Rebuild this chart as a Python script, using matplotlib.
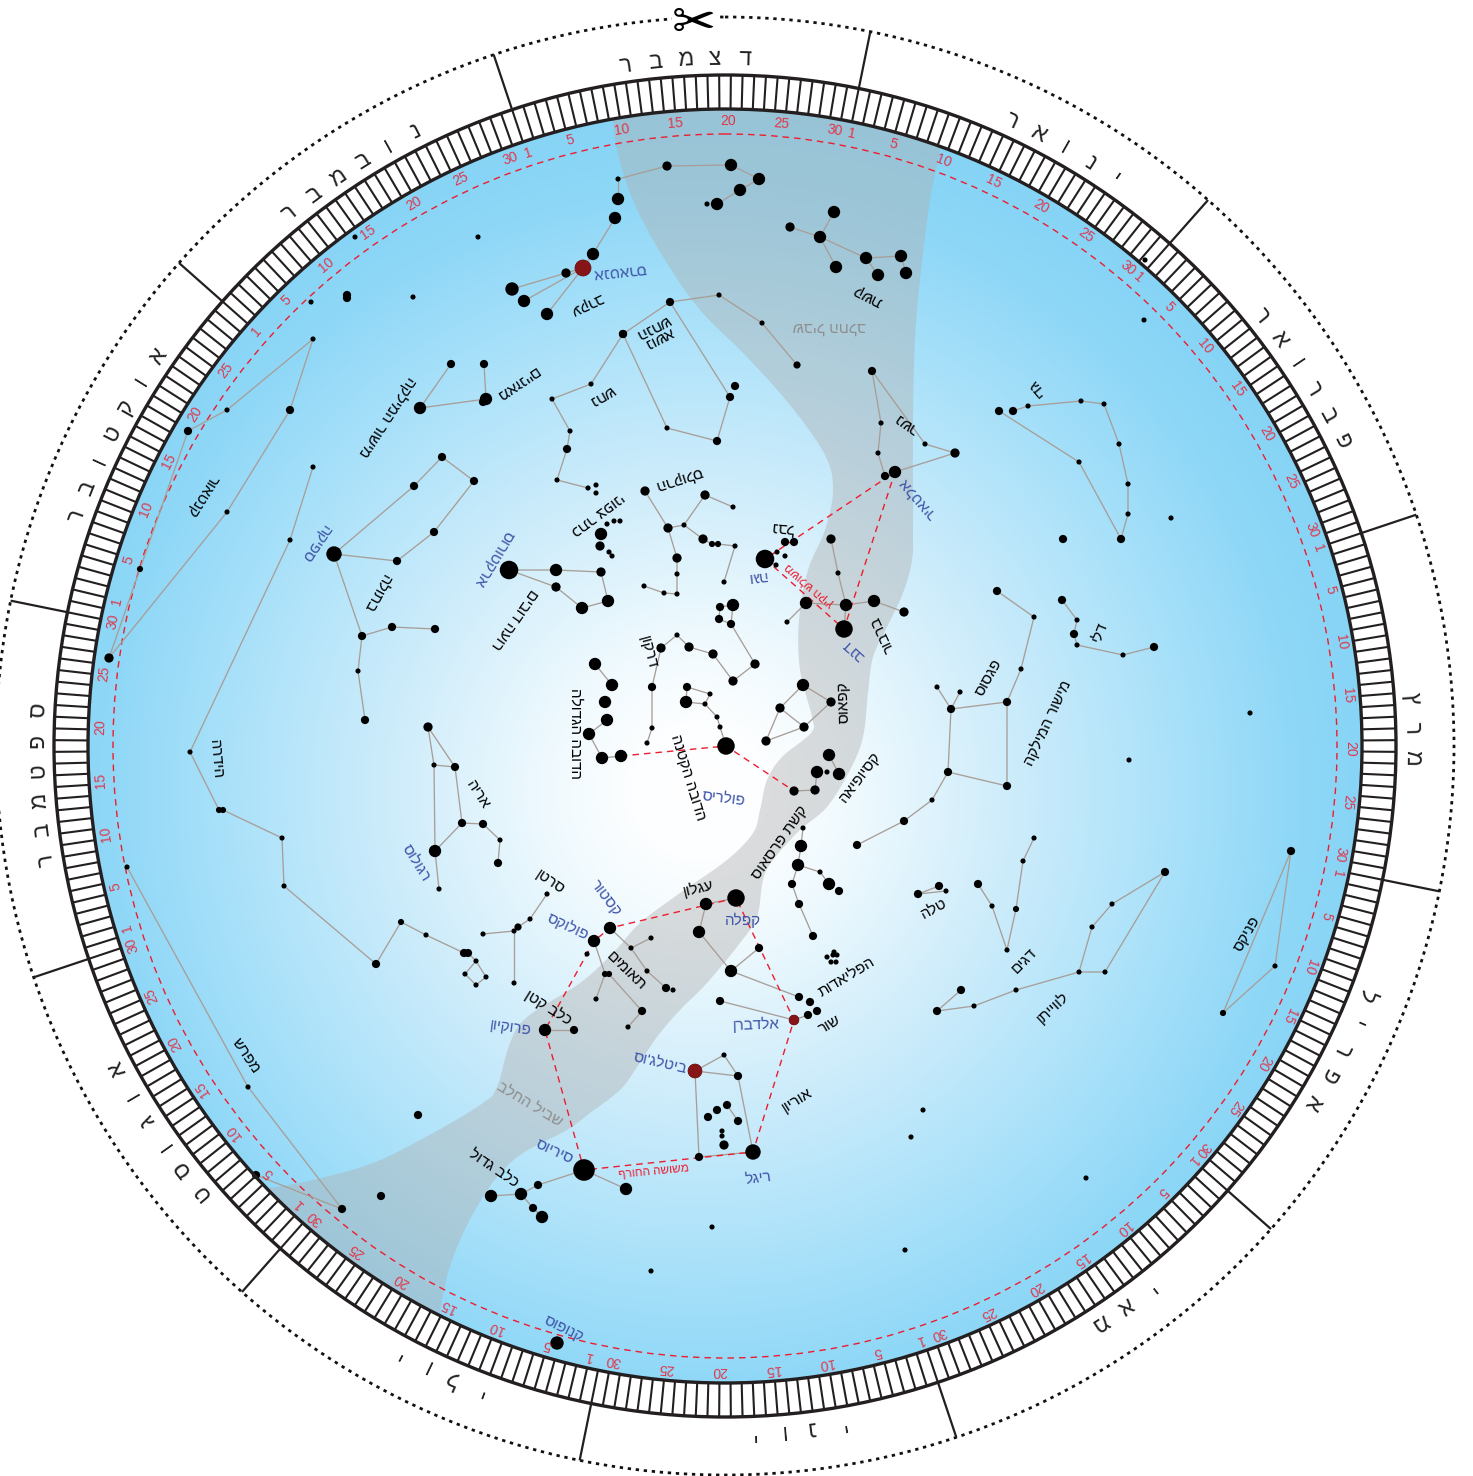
import numpy as np
import matplotlib
matplotlib.use('Agg')
import matplotlib.pyplot as plt
from matplotlib.patches import Circle, Polygon
from matplotlib.collections import LineCollection

plt.rcParams['font.family'] = ['Liberation Sans', 'DejaVu Sans']

W, H = 1473, 1476
CX, CY = 725, 746
R_DOT, R_OUT, R_IN, R_ECL = 729, 671, 637, 612

MONTHS = ['דצמבר', 'ינואר', 'פברואר', 'מרץ', 'אפריל', 'מאי', 'יוני', 'יולי', 'אוגוסט', 'ספטמבר', 'אוקטובר', 'נובמבר']
MONTH_LABEL_ANGLE = [356.7, 29.6, 57.5, 88.5, 116.2, 144.4, 174.0, 204.5, 235.8, 266.7, 297.0, 327.0]
MONTH_DAY1_ANGLE = [341.7, 11.7, 41.4, 71.6, 101.8, 131.6, 161.9, 192.6, 223.0, 253.1, 283.4, 311.5]
MONTH_BOUNDARY = [341.5, 11.5, 41.5, 71.5, 101.5, 131.5, 161.5, 191.5, 221.5, 251.5, 281.5, 311.5]
DAY_LABELS = [5, 10, 15, 20, 25, 30]

GRAD_DIST = [0, 70, 150, 300, 450, 600, 720]
GRAD_R = [255, 252, 240, 208, 175, 142, 130]
GRAD_G = [255, 254, 250, 237, 227, 215, 210]
GRAD_B = [255, 255, 254, 251, 250, 247, 245]

MILKY_A = [(610,90),(617,150),(635,205),(665,260),(700,310),(745,355),(790,405),(825,455),(833,490),(825,530),
           (808,570),(799,620),(800,670),(812,717),(811,733),(782,757),(767,780),(760,810),(753,833),(727,860),
           (680,893),(640,923),(613,953),(580,983),(527,1017),(510,1043),(497,1087),(483,1103),(433,1133),
           (373,1163),(313,1180),(270,1188),(220,1195)]
MILKY_B = [(435,1340),(442,1300),(448,1273),(460,1240),(477,1207),(497,1177),(523,1153),(567,1130),(590,1113),
           (620,1090),(637,1067),(657,1037),(680,1010),(707,983),(740,943),(757,917),(763,880),(773,860),(800,830),
           (827,807),(850,770),(863,737),(868,693),(873,657),(887,627),(903,593),(912,560),(913,527),(913,420),
           (915,340),(920,280),(930,200),(940,150),(947,90)]

SCO = [(618,179,5),(618,199,12),(615,218,12),(593,254,12),(583,268,16),(566,273,9),(512,289,13),(524,301,12),(547,314,12),
       (667,166,9),(731,165,12),(759,179,12),(740,190,12),(717,204,12),(707,204,5)]
SCO_L = [[8,4],[6,5,4],[7,4],[4,3,2],[0,1],[0,9,10,11,12,13]]
SGR = [(790,227,9),(820,237,12),(834,212,12),(836,267,12),(866,258,12),(901,256,12),(878,275,12),(906,273,12)]
SGR_L = [[0,1,2],[1,3],[1,4,5,7],[4,6]]
OPH = [(670,302,8),(719,295,5),(762,323,5),(797,365,7),(623,334,8),(730,397,8),(735,386,8),(717,441,8),(667,428,5)]
OPH_L = [[3,2,1,0,4],[0,5,7,8,4]]
SER = [(591,384,5),(552,399,5),(570,431,5),(567,449,8),(557,480,5),(588,488,5),(596,485,5),(596,493,5),(623,334,8)]
SER_L = [[8,0,1,2,3,4,5]]
CRB = [(601,534,12),(600,546,9),(609,552,5),(612,556,5),(607,524,5),(614,521,5),(620,521,5)]
LIB = [(451,364,8),(484,364,8),(486,399,12),(483,402,8),(420,408,12)]
LIB_L = [[0,4,2,1]]
CEN = [(313,339,5),(227,410,5),(188,431,8),(140,569,6),(109,658,9),(290,410,8),(227,512,5)]
CEN_L = [[0,1,2,3,4],[0,5,6,4]]
LONE = [(355,237,5),(478,237,5),(347,295,8),(347,298,8),(413,297,5),(311,302,5),(418,1115,8),(381,1196,8),(712,1227,5),
        (905,1250,5),(923,1110,5),(911,1137,5),(651,1271,5),(1086,1178,5),(557,1343,13),(1250,713,5),(1129,760,5),
        (1145,260,5),(1144,320,5),(1063,539,8),(1171,518,5)]
VIR = [(334,554,15),(397,561,8),(434,532,8),(474,481,8),(442,457,8),(414,486,8),(362,636,8),(392,627,8),(435,629,8),(358,671,5),(365,720,8)]
VIR_L = [[0,1,2,3,4,5,0],[0,6,7,8],[6,9,10]]
HYA = [(313,467,5),(290,540,5),(190,752,5),(219,810,6),(223,810,6),(282,838,5),(284,886,5),(376,964,8),(401,922,6),(426,935,5),
       (464,953,8),(468,953,8),(476,961,5),(465,974,5),(476,985,5),(486,977,5)]
HYA_L = [[0,1,2,3,4,5,6,7,8,9,10,11,12,13,14,15,12]]
LEO = [(428,727,9),(434,765,5),(455,767,8),(462,823,8),(483,824,8),(500,840,5),(498,863,8),(435,851,12),(439,889,5)]
LEO_L = [[0,2,1,0],[1,7,8],[2,3,4,5,6],[3,7]]
CNC = [(483,934,5),(514,931,5),(518,927,7),(530,919,5),(547,894,5),(514,983,5)]
CNC_L = [[0,1,2,3,4],[1,5]]
GEM = [(610,928,12),(594,941,12),(587,954,5),(631,948,5),(651,938,5),(647,971,5),(666,988,8),(673,990,5),(605,974,6),(609,974,6),
       (596,999,5),(642,1011,8),(628,1027,5)]
GEM_L = [[0,3,5,6],[3,4],[1,8],[8,10],[9,11,12]]
AUR = [(736,898,17),(706,904,12),(699,932,12),(731,971,12),(759,948,8),(799,997,8)]
AUR_L = [[0,1,2,3,4],[3,5]]
TAU = [(794,1020,10),(720,1001,8),(810,1002,8),(817,1011,8),(808,1015,8)]
TAU_L = [[1,0,4]]
PLE = [(827,957,5),(834,952,5),(837,955,5),(831,962,5),(836,962,5),(833,955,5)]
PER = [(798,865,12),(801,846,12),(803,828,5),(820,872,5),(829,884,12),(839,891,8),(792,884,8),(799,904,8),(813,936,8)]
PER_L = [[2,1,0,3,4],[0,6,7,8]]
ORI = [(695,1071,14),(724,1055,5),(738,1076,8),(708,1117,8),(717,1110,8),(727,1105,8),(738,1121,8),(722,1131,5),(722,1136,5),(724,1145,9),(699,1157,8),(753,1152,15)]
ORI_L = [[0,1,2,0],[0,10,11,2],[5,6]]
CMA = [(584,1170,21),(538,1185,8),(521,1194,12),(491,1196,12),(533,1208,8),(542,1217,12),(626,1189,12)]
CMA_L = [[0,1,2,3],[2,4,5],[0,6]]
CMI = [(545,1030,12),(574,1030,8)]
CMI_L = [[0,1]]
VEL = [(127,867,5),(248,1087,5),(342,1209,8),(256,1175,8)]
VEL_L = [[0,1,2,3]]
BOO = [(509,570,18),(556,570,12),(556,587,9),(601,572,9),(608,601,12),(582,608,12)]
BOO_L = [[0,1,3,4,5,2,0]]
HER = [(645,491,9),(668,528,9),(684,525,5),(705,495,9),(733,507,5),(703,539,9),(712,544,6),(718,544,6),(735,546,5),(724,582,5),(677,558,9),(677,574,5),(677,594,5),(664,593,5),(644,586,5)]
HER_L = [[0,1,2,3,4],[2,5,6,7,8,9],[1,10,11,12,13,14]]
LYR = [(765,559,18),(777,552,5),(785,556,5),(776,565,5),(785,542,8),(794,542,8)]
LYR_L = [[0,3],[0,1]]
DRA = [(677,635,5),(661,648,9),(689,647,9),(713,654,9),(733,681,9),(755,664,9),(731,624,8),(719,619,8),(720,607,8),(733,605,12),(652,687,8),(652,728,5),(647,743,5)]
DRA_L = [[12,11,10,1,0,2,3,4,5,6,9],[7,8,9],[6,7]]
UMI = [(726,746,17),(720,727,5),(717,717,5),(705,704,5),(710,694,5),(687,687,8),(686,702,12)]
UMI_L = [[0,1,2,3,4,5,6,3]]
UMA = [(595,664,12),(612,685,12),(605,702,12),(607,720,12),(589,734,12),(602,758,12),(621,756,12)]
UMA_L = [[0,1],[3,4,5,6]]
CEP = [(803,685,12),(780,708,9),(831,702,9),(804,727,9),(766,741,9)]
CEP_L = [[0,1,3,2,0],[1,4,3]]
CAS = [(829,755,12),(839,774,12),(817,772,12),(827,772,5),(815,790,9),(794,791,9)]
CAS_L = [[0,1],[2,4,5]]
CYG = [(844,629,17),(846,605,12),(874,601,12),(904,612,9),(806,603,12),(787,622,5),(838,573,5),(831,539,9)]
CYG_L = [[7,6,1,0],[5,4,1,2,3]]
AQL = [(895,472,12),(885,476,8),(955,453,9),(925,444,5),(878,453,5),(881,423,5),(872,371,8)]
AQL_L = [[1,4,5,6,3,2,0]]
CAP = [(999,411,8),(1013,411,8),(1028,406,5),(1081,401,5),(1104,404,5),(1119,444,5),(1128,484,5),(1128,514,5),(1121,539,8),(1079,462,5)]
CAP_L = [[0,9,8,7,6,5,4,3,2,1]]
AQR = [(1062,600,8),(1077,620,5),(1074,634,8),(1077,645,5),(1123,655,5),(1154,647,8)]
AQR_L = [[0,1,2,3,4,5]]
PEG = [(997,591,8),(1034,617,5),(1021,669,5),(1007,702,8),(951,709,8),(937,687,5),(960,692,5),(948,772,8),(1007,786,8),(932,800,5),(904,821,8),(857,845,8)]
PEG_L = [[0,1,2,3,4,5],[4,6],[4,7,8,3],[7,9,10,11]]
ARI = [(918,894,8),(939,886,8),(946,891,5)]
ARI_L = [[1,0,2]]
PSC = [(1034,838,5),(1023,861,5),(1016,909,6),(1007,950,5),(992,906,5),(978,884,8)]
PSC_L = [[0,1,2,3,4,5]]
CET = [(1165,872,8),(1112,904,5),(1092,927,5),(1079,972,5),(1105,972,5),(1016,990,5),(974,1006,5),(937,1011,8),(961,990,8)]
CET_L = [[0,1,2,3,4,0],[3,5,6,7,8]]
PHE = [(1291,851,8),(1275,966,5),(1223,1013,6)]
PHE_L = [[0,1,2,0]]

RED_STARS = [(583,268,16),(794,1020,10),(695,1071,14)]

SUMMER_TRIANGLE = [(765,559),(844,629),(895,472),(765,559)]
POLARIS_LINKS = [(621,756),(726,746),(794,791)]
WINTER_HEXAGON = [(736,898),(610,928),(594,941),(545,1030),(584,1170),(753,1152),(794,1020),(736,898)]

STAR_GROUPS = [SCO,SGR,OPH,SER,CRB,LIB,CEN,LONE,VIR,HYA,LEO,CNC,GEM,AUR,TAU,PLE,PER,ORI,CMA,CMI,VEL,BOO,HER,LYR,DRA,UMI,UMA,CEP,CAS,CYG,AQL,CAP,AQR,PEG,ARI,PSC,CET,PHE]
LINK_GROUPS = [(SCO,SCO_L),(SGR,SGR_L),(OPH,OPH_L),(SER,SER_L),(LIB,LIB_L),(CEN,CEN_L),(VIR,VIR_L),(HYA,HYA_L),(LEO,LEO_L),(CNC,CNC_L),(GEM,GEM_L),(AUR,AUR_L),(TAU,TAU_L),(PER,PER_L),(ORI,ORI_L),(CMA,CMA_L),(CMI,CMI_L),(VEL,VEL_L),(BOO,BOO_L),(HER,HER_L),(LYR,LYR_L),(DRA,DRA_L),(UMI,UMI_L),(UMA,UMA_L),(CEP,CEP_L),(CAS,CAS_L),(CYG,CYG_L),(AQL,AQL_L),(CAP,CAP_L),(AQR,AQR_L),(PEG,PEG_L),(ARI,ARI_L),(PSC,PSC_L),(CET,CET_L),(PHE,PHE_L)]

BLACK_LABELS = [('עקרב',586,304,205),('נושא\nהנחש',656,332,207),('נחש',602,395,210),('מאזניים',517,383,214),
    ('מישור המילקה',387,417,237),('קנטאור',202,495,238),('בתולה',377,593,241),('רועה דובים',514,619,235),
    ('כתר צפוני',597,514,216.5),('הרקולס',679,479,198),('קשת',868,295,153),('נשר',907,423,145),('גדי',1037,387,130),
    ('דלי',1100,632,68),('ברבור',883,634,115),('נבל',783,527,175),('קפאוס',844,702,92),('דרקון',648,652,-75),
    ('הדובה הגדולה',575,733,-90),('הדובה הקטנה',688,778,-73),('הידרה',216,759,-85),('אריה',478,795,-57),
    ('מפרש',246,1056,-56),('סרטן',550,882,-34),('כלב קטן',548,1007,-32),('תאומים',626,971,-44),('עגלון',698,888,13),
    ('קשת פרסאוס',780,843,55),('קסיופיאה',860,777,53),('פגסוס',989,678,61),('מישור המילקה',1048,723,65),
    ('טלה',934,909,29),('דגים',1024,961,45),('לווייתן',1052,1007,43),('פניקס',1247,934,60),('הפליאדות',847,977,31),
    ('שור',830,1025,30),('אוריון',797,1100,32),('כלב גדול',494,1168,-34)]
BLUE_LABELS = [('אנטארס',619,271,186),('ספיקה',315,543,236),('ארקטורוס',493,558,239),('וגה',756,576,187),
    ('אלטאיר',918,498,131),('דנב',854,650,138),('פולריס',724,798,-7),('רגולוס',416,863,-58),('קסטור',606,898,-53),
    ('פולוקס',568,926,-25),('קפלה',743,920,0),('אלדברן',756,1025,2),('פרוקיון',511,1028,-8),("ביטלג'וס",660,1063,-13),
    ('ריגל',758,1178,7),('סיריוס',554,1152,-25),('קנופוס',564,1329,-26)]
GRAY_LABELS = [('שביל החלב',829,326,180),('שביל החלב',530,1104,-31)]
RED_LABELS = [('משולש הקיץ',810,585,139),('משושה החורף',654,1172,5.5)]


def polar(r, a):
    t = np.radians(a)
    return CX + r * np.sin(t), CY - r * np.cos(t)


def rev(s):
    return '\n'.join(line[::-1] for line in s.split('\n'))


def smooth(pts, n=8):
    p = np.array(pts, float)
    p = np.vstack([p[0], p, p[-1]])
    out = []
    for i in range(1, len(p) - 2):
        for t in np.linspace(0, 1, n, endpoint=False):
            out.append(0.5 * ((2 * p[i]) + (-p[i-1] + p[i+1]) * t + (2*p[i-1] - 5*p[i] + 4*p[i+1] - p[i+2]) * t**2 + (-p[i-1] + 3*p[i] - 3*p[i+1] + p[i+2]) * t**3))
    out.append(p[-2])
    return np.array(out)


fig = plt.figure(figsize=(W / 100, H / 100), dpi=100)
ax = fig.add_axes([0, 0, 1, 1])
ax.set_xlim(0, W)
ax.set_ylim(H, 0)
ax.axis('off')

# sky disc
yy, xx = np.mgrid[0:H, 0:W]
dist = np.hypot(xx - 700, yy - 790)
rgb = np.dstack([np.interp(dist, GRAD_DIST, c) for c in (GRAD_R, GRAD_G, GRAD_B)]) / 255
img = ax.imshow(rgb, extent=(0, W, H, 0), zorder=1, interpolation='bilinear', aspect='auto')
sky = Circle((CX, CY), R_IN, transform=ax.transData)
img.set_clip_path(sky)
ax.set_xlim(0, W)
ax.set_ylim(H, 0)

# milky way
outline = np.vstack([smooth(MILKY_A), smooth(MILKY_B)])
mw = Polygon(outline, closed=True, facecolor=(176/255, 176/255, 176/255), alpha=0.43, edgecolor='none', zorder=2)
ax.add_patch(mw)
mw.set_clip_path(Circle((CX, CY), R_IN, transform=ax.transData))

# ring
DARK = '#231F20'
segs = []
for a in np.arange(0.5, 360.5, 1.0):
    segs.append([polar(R_IN, a), polar(R_OUT, a)])
ax.add_collection(LineCollection(segs, colors=DARK, linewidths=1.5, zorder=6))
ax.add_patch(Circle((CX, CY), R_OUT, fill=False, ec=DARK, lw=2.4, zorder=6))
ax.add_patch(Circle((CX, CY), R_IN, fill=False, ec=DARK, lw=2.4, zorder=6))
ax.add_patch(Circle((CX, CY), R_DOT, fill=False, ec='#111111', lw=2.0, ls=(0, (1.2, 1.7)), zorder=6, clip_on=True))
for a in MONTH_BOUNDARY:
    p, q = polar(R_OUT, a), polar(R_DOT, a)
    ax.plot([p[0], q[0]], [p[1], q[1]], color=DARK, lw=1.6, zorder=6, solid_capstyle='butt')

# months
STEP = 2.5
for name, a0 in zip(MONTHS, MONTH_LABEL_ANGLE):
    n = len(name)
    for i, ch in enumerate(name):
        a = a0 + ((n - 1) / 2 - i) * STEP
        x, y = polar(688, a)
        ax.text(x, y, ch, fontsize=16.5, color='#222222', rotation=-a, rotation_mode='anchor', ha='center', va='center', zorder=7)

# day numbers
RED = '#EE1C2E'
for m, a1 in enumerate(MONTH_DAY1_ANGLE):
    x, y = polar(625, a1)
    ax.text(x, y, '1', fontsize=10, color=RED, alpha=0.85, rotation=-a1, rotation_mode='anchor', ha='center', va='center', zorder=7)
    for d in DAY_LABELS:
        if d == 30 and MONTHS[m] == 'אוקטובר':
            continue
        a = a1 + (d - 1) * 0.98
        x, y = polar(625, a)
        ax.text(x, y, str(d), fontsize=10, color=RED, alpha=0.85, rotation=-a, rotation_mode='anchor', ha='center', va='center', zorder=7)

# ecliptic-like dashed circle
ax.add_patch(Circle((CX, CY), R_ECL, fill=False, ec=RED, lw=1.0, ls=(0, (4.7, 3.6)), zorder=3))

# constellation figures
LINE_C = '#A89E98'
for stars, links in LINK_GROUPS:
    for path in links:
        ax.plot([stars[i][0] for i in path], [stars[i][1] for i in path], color=LINE_C, lw=0.95, zorder=4, solid_joinstyle='round')

# asterisms
for poly in (SUMMER_TRIANGLE, WINTER_HEXAGON, POLARIS_LINKS):
    ax.plot([p[0] for p in poly], [p[1] for p in poly], color=RED, lw=1.0, ls=(0, (4.7, 3.6)), zorder=4.5)

# stars
for group in STAR_GROUPS:
    ax.scatter([s[0] for s in group], [s[1] for s in group], s=[(s[2] * 0.74) ** 2 for s in group], c='black', linewidths=0, zorder=5)
ax.scatter([s[0] for s in RED_STARS], [s[1] for s in RED_STARS], s=[(s[2] * 0.74) ** 2 for s in RED_STARS], c='#861517', linewidths=0, zorder=5.5)

# labels
for labels, col, fs in ((BLACK_LABELS, 'black', 11), (BLUE_LABELS, '#3F55A8', 11), (GRAY_LABELS, '#8E8E8E', 11), (RED_LABELS, RED, 8.5)):
    for txt, x, y, rot in labels:
        ax.text(x, y, rev(txt), fontsize=fs, color=col, rotation=rot, rotation_mode='anchor', ha='center', va='center', linespacing=0.85, zorder=7)

# scissors
ax.text(694, 24, '\u2702', fontsize=38, family='DejaVu Sans', color='black', ha='center', va='center', zorder=8,
        bbox=dict(facecolor='white', edgecolor='none', pad=0))

fig.savefig('out.png', dpi=100)
